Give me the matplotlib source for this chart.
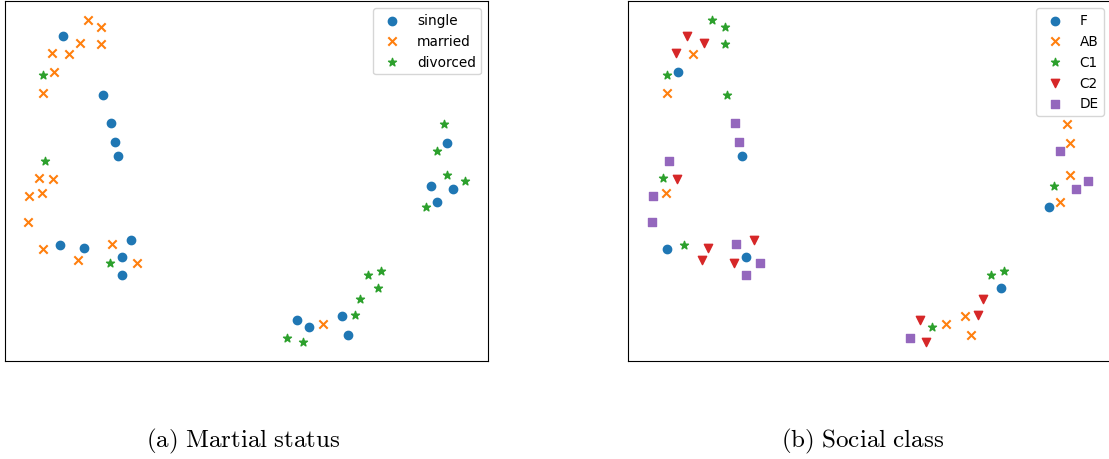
import matplotlib
matplotlib.use('Agg')
import matplotlib.pyplot as plt

# 2-D embedding coordinates (same points in both panels)
emb_x = [-15.8, -14.5, -18.3, -16.6, -14.5, -19.4, -17.7, -20.3, -19.2, -20.3,
         -14.3, -13.5, -13.1, -12.8, -20.1, -20.7, -19.3, -21.7, -20.4, -21.8,
         -18.6, -20.3, -16.2, -16.8, -13.4, -11.6, -12.4, -13.6, -11.0, -12.4,
         19.7, 20.0, 19.0, 20.0, 21.8, 18.4, 20.6, 19.0, 17.9, 13.4,
         12.1, 13.1, 11.3, 9.5, 10.8, 5.0, 6.2, 7.6, 10.1, 4.0, 5.6]
emb_y = [16.1, 15.4, 14.5, 13.8, 13.7, 12.8, 12.7, 10.6, 10.9, 8.8,
         8.6, 5.8, 3.9, 2.5, 2.0, 0.3, 0.2, -1.5, -1.2, -4.1,
         -6.4, -6.8, -6.7, -7.9, -6.3, -5.9, -7.6, -8.2, -8.2, -9.4,
         5.7, 3.8, 3.0, 0.6, 0.0, -0.5, -0.8, -2.1, -2.6, -9.0,
         -9.4, -10.7, -11.8, -13.5, -13.4, -13.9, -14.6, -14.3, -15.4, -15.7, -16.1]

marital = ['married', 'married', 'single', 'married', 'married', 'married', 'married',
           'divorced', 'married', 'married', 'single', 'single', 'single', 'single',
           'divorced', 'married', 'married', 'married', 'married', 'married',
           'single', 'married', 'single', 'married', 'married', 'single', 'single',
           'divorced', 'married', 'single', 'divorced', 'single', 'divorced',
           'divorced', 'divorced', 'single', 'single', 'single', 'divorced',
           'divorced', 'divorced', 'divorced', 'divorced', 'single', 'divorced',
           'single', 'single', 'married', 'single', 'divorced', 'divorced']
social = ['C1', 'C1', 'C2', 'C2', 'C1', 'C2', 'AB', 'C1', 'F', 'AB',
          'C1', 'DE', 'DE', 'F', 'DE', 'C1', 'C2', 'DE', 'AB', 'DE',
          'C1', 'F', 'C2', 'C2', 'DE', 'C2', 'F', 'C2', 'DE', 'DE',
          'AB', 'AB', 'DE', 'AB', 'DE', 'C1', 'DE', 'AB', 'F', 'C1',
          'C1', 'F', 'C2', 'AB', 'C2', 'C2', 'C1', 'AB', 'AB', 'DE', 'C2']

marital_groups = ['single', 'married', 'divorced']
social_groups = ['F', 'AB', 'C1', 'C2', 'DE']
markers = ['o', 'x', '*', 'v', 's']

plt.rcParams['mathtext.fontset'] = 'cm'

fig = plt.figure(figsize=(11.09, 4.6), dpi=100)
W, H = 1109, 460
ax_a = fig.add_axes([5 / W, 1 - 362 / H, 483 / W, 360 / H])
ax_b = fig.add_axes([628 / W, 1 - 362 / H, 483 / W, 360 / H])


def draw(ax, labels, groups):
    # one scatter call per category, in legend order
    for i, g in enumerate(groups):
        xs = [x for x, l in zip(emb_x, labels) if l == g]
        ys = [y for y, l in zip(emb_y, labels) if l == g]
        ax.scatter(xs, ys, marker=markers[i], color='C%d' % i, s=36, label=g)
    ax.set_xlim(-24.15, 24.15)
    ax.set_ylim(-18, 18)
    ax.set_xticks([])
    ax.set_yticks([])
    ax.legend(loc='upper right', fontsize=9.8)


draw(ax_a, marital, marital_groups)
draw(ax_b, social, social_groups)

# sub-captions in a Computer Modern look
fig.text(243 / W, 1 - 441 / H, r'$\mathrm{(a)\ Martial\ status}$',
         ha='center', va='center', fontsize=18)
fig.text(863 / W, 1 - 441 / H, r'$\mathrm{(b)\ Social\ class}$',
         ha='center', va='center', fontsize=18)

fig.savefig('out.png', dpi=100)
